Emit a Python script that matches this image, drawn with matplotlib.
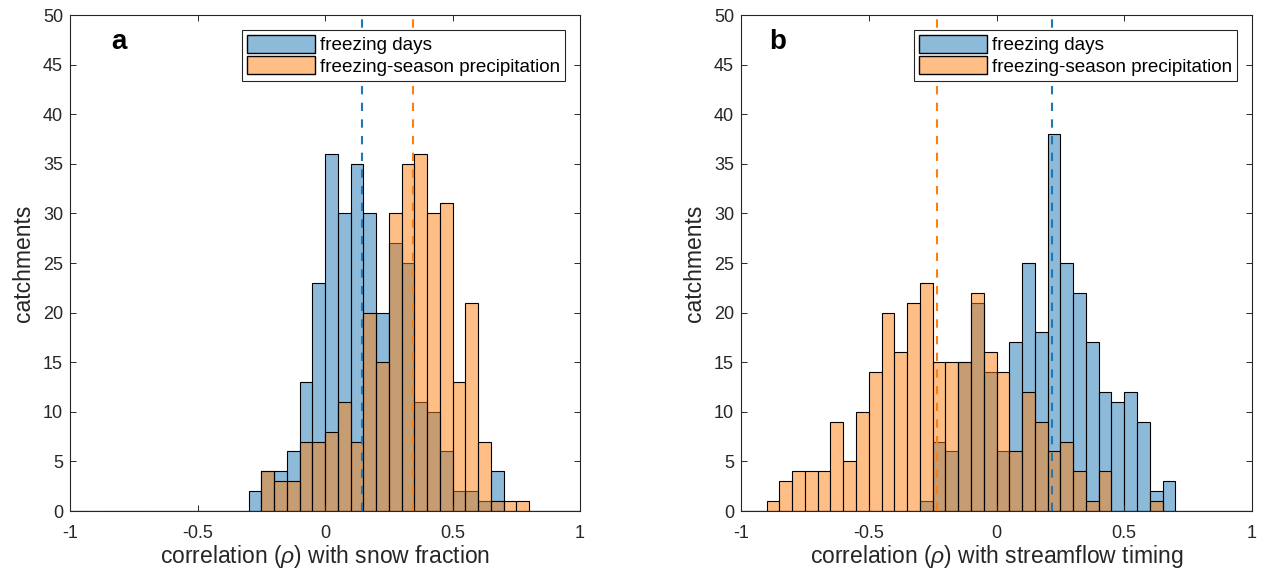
import numpy as np
import matplotlib
matplotlib.use('Agg')
import matplotlib.pyplot as plt
from matplotlib.patches import Patch

plt.rcParams['font.family'] = ['Liberation Sans', 'DejaVu Sans']
plt.rcParams['mathtext.fontset'] = 'custom'
plt.rcParams['mathtext.it'] = 'Liberation Sans:italic'
plt.rcParams['mathtext.rm'] = 'Liberation Sans'

# bin edges (width 0.05)
edges = np.round(np.arange(-1, 1.0001, 0.05), 2)
centers = (edges[:-1] + edges[1:]) / 2

# panel a: counts per bin, bins starting at -0.30
a_start = -0.30
a_days = [2, 4, 4, 6, 13, 23, 36, 30, 35, 30, 20, 27, 25, 11, 10, 6, 2, 2, 1, 4, 0, 0]
a_prec = [0, 4, 3, 3, 7, 7, 8, 11, 7, 20, 15, 30, 35, 36, 30, 31, 13, 21, 7, 1, 1, 1]
a_med_days = 0.145
a_med_prec = 0.345

# panel b: counts per bin, bins starting at -0.90
b_start = -0.90
b_days = [0, 0, 0, 0, 0, 0, 0, 0, 0, 0, 0, 0, 1, 7, 6, 15, 21, 14, 6, 17, 25, 18,
          38, 25, 22, 17, 12, 11, 12, 9, 2, 3]
b_prec = [1, 3, 4, 4, 4, 9, 5, 10, 14, 20, 16, 21, 23, 15, 15, 15, 22, 16, 14, 6, 12, 9,
          6, 7, 4, 1, 4, 0, 0, 0, 1, 0]
b_med_days = 0.216
b_med_prec = -0.234

blue = '#1f77b4'
orange = '#ff7f0e'
txt = '#262626'


def full_counts(start, counts):
    full = np.zeros(len(centers))
    i0 = int(round((start + 1) / 0.05))
    full[i0:i0 + len(counts)] = counts
    return full


def draw(ax, start, days, prec, med_days, med_prec, label, xlabel, letter_x):
    d = full_counts(start, days)
    p = full_counts(start, prec)
    ax.bar(centers, d, width=0.05, facecolor=matplotlib.colors.to_rgba(blue, 0.5),
           edgecolor='black', linewidth=0.8)
    ax.bar(centers, p, width=0.05, facecolor=matplotlib.colors.to_rgba(orange, 0.5),
           edgecolor='black', linewidth=0.8)
    ax.axvline(med_days, color=blue, ls=(0, (4, 4)), lw=1.5)
    ax.axvline(med_prec, color=orange, ls=(0, (4, 4)), lw=1.5)
    ax.set_xlim(-1, 1)
    ax.set_ylim(0, 50)
    ax.set_xticks([-1, -0.5, 0, 0.5, 1])
    ax.set_xticklabels(['-1', '-0.5', '0', '0.5', '1'])
    ax.set_yticks(range(0, 51, 5))
    ax.tick_params(direction='in', top=True, right=True, labelsize=13, colors=txt,
                   length=4, width=0.7)
    ax.tick_params(axis='x', pad=10)
    ax.tick_params(axis='y', pad=5)
    for s in ax.spines.values():
        s.set_color(txt)
        s.set_linewidth(0.8)
    ax.set_xlabel(xlabel, fontsize=16.5, color=txt, labelpad=1)
    ax.set_ylabel('catchments', fontsize=16.5, color=txt, labelpad=6)
    ax.text(letter_x, 0.945, label, transform=ax.transAxes, fontsize=20,
            fontweight='bold', va='center', ha='left')
    handles = [Patch(facecolor=matplotlib.colors.to_rgba(blue, 0.5), edgecolor='black'),
               Patch(facecolor=matplotlib.colors.to_rgba(orange, 0.5), edgecolor='black')]
    leg = ax.legend(handles, ['freezing days', 'freezing-season precipitation'],
                    loc='upper right', bbox_to_anchor=(0.97, 0.97),
                    prop={'size': 13.6},
                    fancybox=False, framealpha=1, edgecolor=txt, borderpad=0.25,
                    handlelength=3.6, handleheight=1.1, handletextpad=0.25,
                    labelspacing=0.12, borderaxespad=0)
    leg.get_frame().set_linewidth(0.8)


fig = plt.figure(figsize=(12.62, 5.73), dpi=100)
ax1 = fig.add_axes([70 / 1262, 62 / 573, 510 / 1262, 496 / 573])
ax2 = fig.add_axes([741 / 1262, 62 / 573, 511 / 1262, 496 / 573])

draw(ax1, a_start, a_days, a_prec, a_med_days, a_med_prec, 'a',
     r'correlation ($\rho$) with snow fraction', 0.08)
draw(ax2, b_start, b_days, b_prec, b_med_days, b_med_prec, 'b',
     r'correlation ($\rho$) with streamflow timing', 0.055)

fig.savefig('out.png', dpi=100)
